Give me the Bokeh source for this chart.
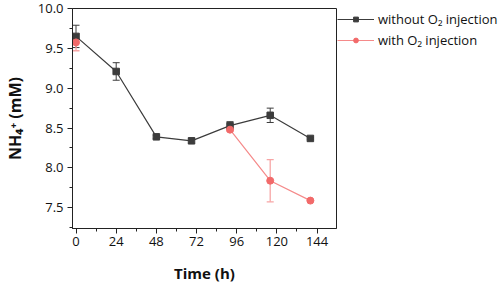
from bokeh.plotting import figure
from bokeh.layouts import row
from bokeh.models import ColumnDataSource, Whisker, TeeHead, Legend, LegendItem, FixedTicker, Range1d
from bokeh.embed import file_html
from bokeh.resources import INLINE

# Data
time_without = [0, 24, 48, 69, 92, 116, 140]
nh4_without = [9.65, 9.21, 8.39, 8.34, 8.53, 8.66, 8.37]
err_without = [0.14, 0.11, 0.02, 0.03, 0.05, 0.09, 0.01]

time_with = [0, 92, 116, 140]
nh4_with = [9.575, 8.48, 7.84, 7.59]
err_with = [0.105, 0.02, 0.265, 0.01]

x_ticks = [0, 24, 48, 72, 96, 120, 144]
y_ticks = [7.5, 8.0, 8.5, 9.0, 9.5, 10.0]

series_names = ["without O\u2082 injection", "with O\u2082 injection"]

FONT = "Open Sans"
DARK = "#3c3c3c"
RED = "#f26a6a"
RED_LINE = "#f58a8a"
RED_ERR = "#f7a5a5"

src_a = ColumnDataSource(dict(
    x=time_without, y=nh4_without,
    lo=[v - e for v, e in zip(nh4_without, err_without)],
    hi=[v + e for v, e in zip(nh4_without, err_without)]))
src_b = ColumnDataSource(dict(
    x=time_with, y=nh4_with,
    lo=[v - e for v, e in zip(nh4_with, err_with)],
    hi=[v + e for v, e in zip(nh4_with, err_with)]))
# the "with O2" line is only drawn from the injection time onward
src_b_line = ColumnDataSource(dict(x=time_with[1:], y=nh4_with[1:]))

p = figure(width=337, height=285, output_backend="svg", toolbar_location=None,
           x_range=Range1d(-2.1, 155.6), y_range=Range1d(7.24, 10.0),
           min_border_left=62, min_border_right=1, min_border_top=8, min_border_bottom=57)

p.background_fill_color = "white"
p.border_fill_color = "white"
p.outline_line_color = "#222222"
p.outline_line_width = 1
p.xgrid.visible = False
p.ygrid.visible = False

# error bars
wa = Whisker(source=src_a, base="x", lower="lo", upper="hi",
             line_color=DARK, line_width=1,
             upper_head=TeeHead(size=7, line_color=DARK, line_width=1),
             lower_head=TeeHead(size=7, line_color=DARK, line_width=1))
wb = Whisker(source=src_b, base="x", lower="lo", upper="hi",
             line_color=RED_ERR, line_width=1.3,
             upper_head=TeeHead(size=7, line_color=RED_ERR, line_width=1.3),
             lower_head=TeeHead(size=7, line_color=RED_ERR, line_width=1.3))
p.add_layout(wa)
p.add_layout(wb)

p.line("x", "y", source=src_a, line_color=DARK, line_width=1.2)
p.scatter("x", "y", source=src_a, marker="square", size=6.5,
          fill_color=DARK, line_color=DARK)
p.line("x", "y", source=src_b_line, line_color=RED_LINE, line_width=1.2)
p.scatter("x", "y", source=src_b, marker="circle", size=7,
          fill_color=RED, line_color=RED)

# axes
for ax in (p.xaxis[0], p.yaxis[0]):
    ax.axis_line_color = "#222222"
    ax.axis_line_width = 1
    ax.major_tick_line_color = "#222222"
    ax.minor_tick_line_color = "#222222"
    ax.major_tick_in = 0
    ax.major_tick_out = 5
    ax.minor_tick_in = 0
    ax.minor_tick_out = 3
    ax.major_label_text_font = FONT
    ax.major_label_text_font_size = "13px"
    ax.major_label_text_color = "#111111"
    ax.axis_label_text_font = FONT
    ax.axis_label_text_font_style = "bold"
    ax.axis_label_text_color = "#111111"

p.xaxis.axis_label_text_font_size = "15px"
p.yaxis.axis_label_text_font_size = "16px"
p.xaxis.ticker = FixedTicker(ticks=x_ticks,
                             minor_ticks=[t + 12 for t in x_ticks])
p.yaxis.ticker = FixedTicker(ticks=y_ticks,
                             minor_ticks=[t + 0.25 for t in y_ticks[:-1]] + [7.25])
p.yaxis.major_label_overrides = {t: f"{t:.1f}" for t in y_ticks}
p.xaxis.major_label_standoff = 3
p.yaxis.major_label_standoff = 4
p.xaxis.axis_label = "Time (h)"
p.yaxis.axis_label = "NH\u2084\u207a (mM)"
p.xaxis.axis_label_standoff = 14
p.yaxis.axis_label_standoff = 9

# legend panel (separate figure to the right of the plot box); its ranges
# keep the series' own data out of view so only the legend keys show
lg = figure(width=161, height=285, output_backend="svg", toolbar_location=None,
            x_range=Range1d(1000, 1001), y_range=Range1d(1000, 1001),
            min_border_left=0, min_border_right=0, min_border_top=8, min_border_bottom=57)
lg.axis.visible = False
lg.grid.visible = False
lg.outline_line_color = None
lg.background_fill_color = "white"
lg.border_fill_color = "white"

ka = lg.line("x", "y", source=src_a, line_color=DARK, line_width=1.2)
kma = lg.scatter("x", "y", source=src_a, marker="square", size=5,
                 fill_color=DARK, line_color=DARK)
kb = lg.line("x", "y", source=src_b_line, line_color=RED_LINE, line_width=1.2)
kmb = lg.scatter("x", "y", source=src_b, marker="circle", size=5,
                 fill_color=RED, line_color=RED)

legend = Legend(items=[
    LegendItem(label=series_names[0], renderers=[ka, kma]),
    LegendItem(label=series_names[1], renderers=[kb, kmb]),
], location="top_left")
legend.glyph_width = 37
legend.glyph_height = 12
legend.label_height = 21
legend.spacing = 0
legend.label_standoff = 4
legend.padding = 0
legend.margin = 0
legend.border_line_color = None
legend.background_fill_alpha = 0
legend.label_text_font = FONT
legend.label_text_font_size = "13px"
legend.label_text_color = "#111111"
lg.add_layout(legend, "center")

layout = row(p, lg, spacing=0)
open("out.html", "w").write(file_html(layout, INLINE))
